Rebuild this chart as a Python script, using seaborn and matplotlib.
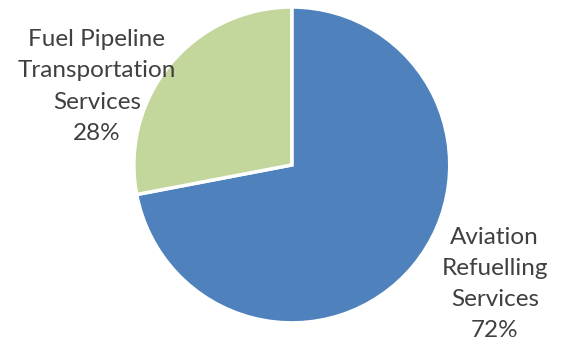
import matplotlib
matplotlib.use("Agg")
import matplotlib.pyplot as plt
import seaborn as sns

# Service revenue split
segments = ["Aviation\nRefuelling\nServices", "Fuel Pipeline\nTransportation\nServices"]
shares = [72, 28]
colors = ["#4F81BD", "#C3D69B"]

sns.set_theme(style="white")
plt.rcParams["font.family"] = ["Lato", "DejaVu Sans"]

fig = plt.figure(figsize=(5.65, 3.44), dpi=100)
ax = fig.add_axes([0.237, 0.061, 0.559, 0.919])

wedges, _ = ax.pie(shares, colors=colors, startangle=90, counterclock=False,
                   wedgeprops=dict(edgecolor="white", linewidth=2.5))
ax.set_xlim(-1, 1)
ax.set_ylim(-1, 1)
ax.set_aspect("equal")
ax.axis("off")

label_pos = [(1.285, -0.753), (-1.234, 0.497)]
for name, val, (x, y) in zip(segments, shares, label_pos):
    ax.text(x, y, f"{name}\n{val}%", ha="center", va="center",
            fontsize=17.5, color="#404040", linespacing=1.6, clip_on=False)

plt.savefig("out.png", dpi=100)
